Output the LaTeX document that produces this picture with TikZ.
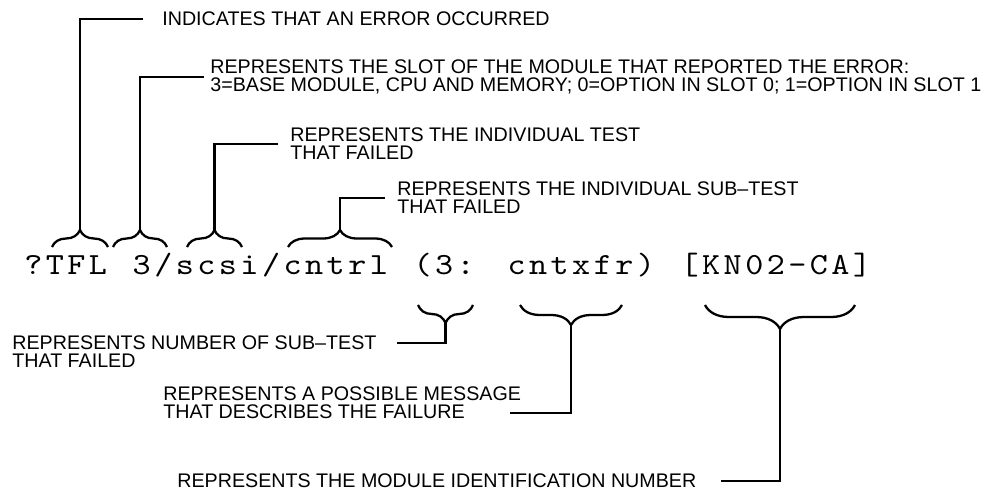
\documentclass[tikz,border=0pt]{standalone}
\usepackage{fontspec}
\setmainfont{Liberation Sans}
\newfontfamily\cmdfont{lmmono10-regular.otf}[FakeStretch=1.12, LetterSpace=11.3, WordSpace=1.19]
\usetikzlibrary{decorations.pathreplacing}

\begin{document}
\begin{tikzpicture}[x=0.02cm, y=-0.02cm,
  lbl/.style={anchor=west, align=left, inner sep=0pt, font=\fontsize{11.2}{10.2}\selectfont},
  cmdline/.style={anchor=base west, inner sep=0pt, font=\cmdfont\fontsize{17.5}{20}\selectfont},
  brc/.style={decorate, decoration={brace, amplitude=#1}, line width=1.3pt},
  brc/.default=0.34cm,
  ldr/.style={line width=1.5pt}]
\useasboundingbox (0,0) rectangle (1000,494);
\node[cmdline] (cmd) at (24,274) {?TFL 3/scsi/cntrl (3: cntxfr) [KN02-CA]};

\node[lbl] (err) at (162,19) {INDICATES THAT AN ERROR OCCURRED};
\node[lbl] (slot) at (210,77) {REPRESENTS THE SLOT OF THE MODULE THAT REPORTED THE ERROR:\\3=BASE MODULE, CPU AND MEMORY; 0=OPTION IN SLOT 0; 1=OPTION IN SLOT 1};
\node[lbl] (test) at (290,144) {REPRESENTS THE INDIVIDUAL TEST\\THAT FAILED};
\node[lbl] (sub) at (397,198) {REPRESENTS THE INDIVIDUAL SUB–TEST\\THAT FAILED};
\node[lbl] (num) at (12,352) {REPRESENTS NUMBER OF SUB–TEST\\THAT FAILED};
\node[lbl] (msg) at (163,403) {REPRESENTS A POSSIBLE MESSAGE\\THAT DESCRIBES THE FAILURE};
\node[lbl] (mod) at (177,481) {REPRESENTS THE MODULE IDENTIFICATION NUMBER};

\draw[brc] (52,247) -- (108,247);
\draw[brc] (113,247) -- (167,247);
\draw[brc] (187,247) -- (242,247);
\draw[brc] (288,247) -- (392,247);
\draw[brc=0.36cm] (473,305) -- (418,305);
\draw[brc=0.4cm] (622,305) -- (520,305);
\draw[brc=0.48cm] (855,305) -- (705,305);

\coordinate (t1) at (80,230);
\coordinate (t2) at (140,230);
\coordinate (t3) at (214.5,230);
\coordinate (t4) at (340,230);
\coordinate (t5) at (445.5,323);
\coordinate (t6) at (571,325);
\coordinate (t7) at (780,329);
\coordinate (e5) at (397,343);
\coordinate (e6) at (510,413);

\draw[ldr, shorten >=0.38cm] (t1) |- (err.west);
\draw[ldr, shorten >=0.12cm] (t2) |- (slot.west);
\draw[ldr, shorten >=0.24cm] (t3) |- (test.west);
\draw[ldr, shorten >=0.24cm] (t4) |- (sub.west);
\draw[ldr] (t5) |- (e5);
\draw[ldr] (t6) |- (e6);
\draw[ldr, shorten >=0.48cm] (t7) |- (mod.east);
\end{tikzpicture}
\end{document}
